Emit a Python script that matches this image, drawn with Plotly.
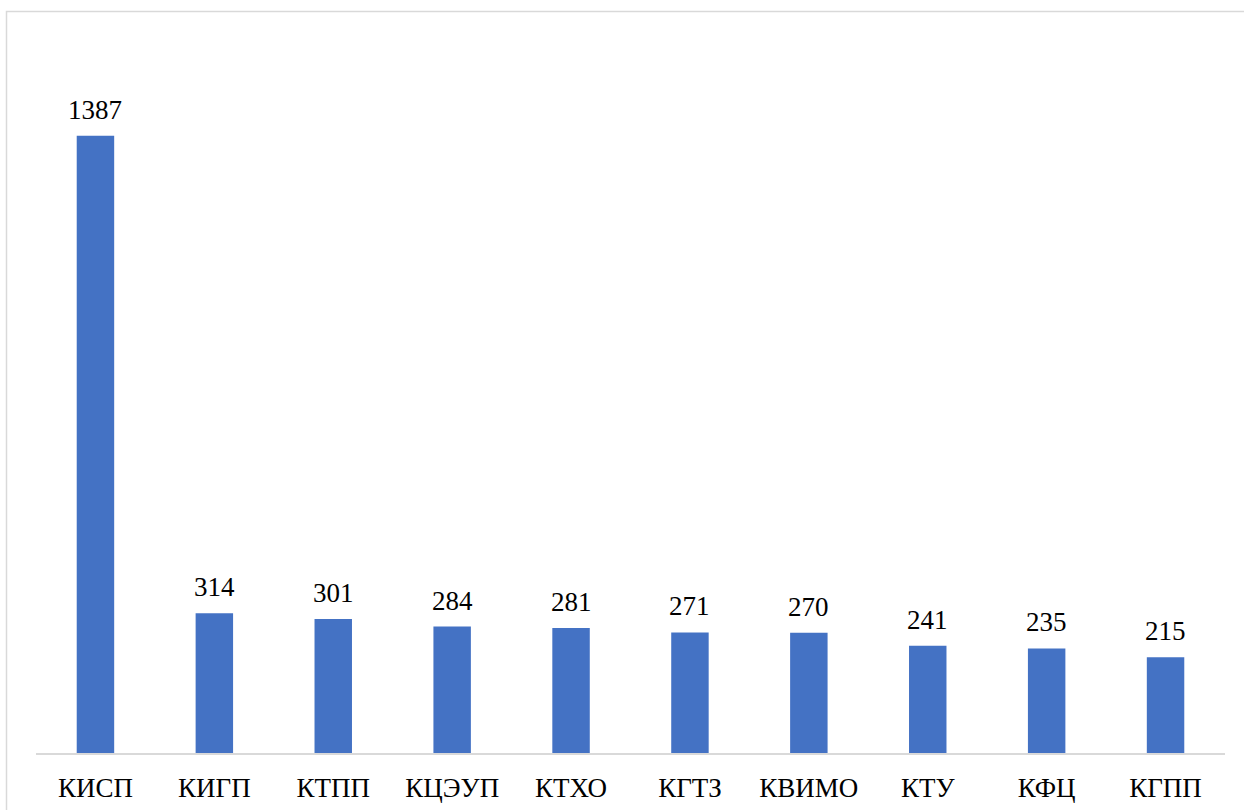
import plotly.graph_objects as go

categories = ["КИСП", "КИГП", "КТПП", "КЦЭУП", "КТХО", "КГТЗ", "КВИМО", "КТУ", "КФЦ", "КГПП"]
values = [1387, 314, 301, 284, 281, 271, 270, 241, 235, 215]

W, H = 1244, 810
ml, mr, mt, mb = 36, 19, 41, 57
pw = W - ml - mr
ph = H - mt - mb
FONT = "Liberation Serif, Times New Roman, serif"
FS = 27

fig = go.Figure()
fig.add_trace(go.Bar(
    x=categories, y=values,
    marker=dict(color="#4472C4", line=dict(width=0)),
    width=0.315,
    hoverinfo="x+y",
))

for c, v in zip(categories, values):
    fig.add_annotation(x=c, y=v, text=str(v), showarrow=False,
                       yanchor="bottom", yshift=9,
                       font=dict(family=FONT, size=FS, color="black"))

# outer chart border (light gray frame)
fig.add_shape(type="rect", xref="paper", yref="paper",
              x0=(6.5 - ml) / pw, x1=(W + 30 - ml) / pw,
              y0=-(mb + 30) / ph, y1=(H - mb - 11.5) / ph,
              line=dict(color="#d9d9d9", width=1.5), layer="below")

fig.update_layout(
    width=W, height=H,
    margin=dict(l=ml, r=mr, t=mt, b=mb, autoexpand=False),
    paper_bgcolor="white", plot_bgcolor="white",
    showlegend=False,
    font=dict(family=FONT, size=FS, color="black"),
)
fig.update_xaxes(showline=True, linecolor="#d9d9d9", linewidth=2,
                 ticks="", showgrid=False, zeroline=False, automargin=False,
                 tickfont=dict(family=FONT, size=FS, color="black"),
                 ticklabelstandoff=10)
fig.update_yaxes(range=[0, 1600], visible=False, showgrid=False, zeroline=False,
                 automargin=False)

fig.write_html("out.html", config={"displayModeBar": False},
               post_script="document.body.style.margin='0';document.body.style.overflow='hidden';")
